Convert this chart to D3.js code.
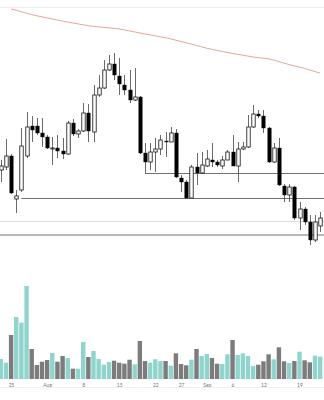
<!DOCTYPE html>
<html><head><meta charset="utf-8">
<script src="https://cdn.jsdelivr.net/npm/d3@7/dist/d3.min.js"></script>
<style>html,body{margin:0;padding:0;background:#fff;overflow:hidden}svg{display:block}</style>
</head><body><svg id="c" width="324" height="400"></svg>
<script>
// Daily candles, 23 Jul .. 23 Sep
const startDate = new Date(2017, 6, 23);
const endDate = new Date(2017, 8, 23);
const openP  = [80,83,94,51,60,94,124,124,117,113,101,102,99,96,127,116,119,137,118,155,162,180,186,174,165,160,150,153,97,88,98,101,109,108,117,72,68,52,83,77,84,90,88,84,90,98,84,101,103,123,136,134,122,88,102,64,55,63,32,41,28,10,24];
const highP  = [90,111,96,60,122,138,134,132,132,115,113,115,112,129,131,121,147,146,165,175,190,195,197,192,175,180,182,154,107,107,112,115,118,123,121,75,70,85,97,98,100,107,90,94,100,115,108,108,135,145,140,140,123,107,112,66,66,64,48,43,35,35,38];
const lowP   = [68,80,56,37,58,92,108,115,103,101,85,92,91,95,114,112,118,108,108,153,161,179,170,155,155,147,149,96,77,80,78,95,93,108,72,58,52,52,65,76,83,83,83,81,90,84,68,100,102,122,132,117,87,87,64,48,48,30,20,25,5,8,18];
const closeP = [84,94,57,54,104,123,120,117,113,102,102,99,96,127,116,119,137,119,155,162,180,186,175,166,160,150,153,97,88,98,101,110,108,117,73,68,52,83,77,85,91,88,85,90,98,84,101,103,123,136,134,122,88,102,65,55,63,32,41,28,10,28,32];
const maP    = [null,null,241,239.8,238.3,236.8,235.4,234.2,233.1,232.1,231,230,228.9,227.9,227,226.1,225.2,224.3,223.6,223.1,222.6,222.1,221.6,221.1,220.1,219.1,218.1,217,216,215.1,214.2,213.2,212.3,211.1,209.8,208.5,207.2,205.9,204.5,203.2,201.8,200.6,199.6,198.5,197.5,196.5,195.7,194.8,193.9,193,192.4,191.8,191.2,189.9,188.4,186.9,185.4,184.1,182.9,181.5,180,178.4,176.9];
const volume = [20,16.3,44,62,56.3,93,30,14,17.3,19,26,17.3,23,21,10.3,10.3,37,22,28,20,14.3,17,18.3,16.3,15.3,19.3,14.7,38,18,16.3,19.7,18,18,13.3,25.7,15,13.7,19.3,30,23,25,21,15.3,15,24.7,39,24,25.7,23,13,14.3,17.7,24.7,19.7,31.7,17.7,16,18,27.3,18.7,16.7,23.3,22.3];
// horizontal levels: [price, start index]
const levelPrices = [52, 77];
const levelStarts = [4, 28];
const bandLevels = [29, 15];
const tickDates = [new Date(2017,6,25),new Date(2017,7,1),new Date(2017,7,8),new Date(2017,7,15),new Date(2017,7,22),new Date(2017,7,27),new Date(2017,8,1),new Date(2017,8,6),new Date(2017,8,12),new Date(2017,8,19)];
const tickLabels = ["25","Aug","8","15","22","27","Sep","6","12","19"];

const dates = d3.timeDay.range(startDate, d3.timeDay.offset(endDate,1));
const svg = d3.select("#c");
const x = d3.scaleTime().domain([startDate, endDate]).range([0.8, 320.1]);
const y = d3.scaleLinear().domain([0, 250]).range([250, 0]);
const yv = d3.scaleLinear().domain([0, 100]).range([379, 279]);
const W = 324;

// top faint line
svg.append("line").attr("x1",0).attr("x2",W).attr("y1",7.5).attr("y2",7.5).attr("stroke","#eeeeee").attr("stroke-width",1);

// band levels
svg.append("line").attr("x1",0).attr("x2",W).attr("y1",Math.round(y(bandLevels[0]))+0.5).attr("y2",Math.round(y(bandLevels[0]))+0.5).attr("stroke","#dddddd").attr("stroke-width",1);
svg.append("line").attr("x1",0).attr("x2",W).attr("y1",y(bandLevels[1])).attr("y2",y(bandLevels[1])).attr("stroke","#a0a0a0").attr("stroke-width",1.6);

// support levels
levelPrices.forEach((p,k)=>{
  const yy = Math.round(y(p))+0.5;
  svg.append("line").attr("x1",x(dates[levelStarts[k]])).attr("x2",W).attr("y1",yy).attr("y2",yy).attr("stroke","#707070").attr("stroke-width",1);
});

// MA line
const maData = dates.map((d,i)=>({d, v: maP[i]})).filter(e=>e.v!=null);
svg.append("path").datum(maData)
  .attr("d", d3.line().x(e=>x(e.d)).y(e=>y(e.v)).curve(d3.curveMonotoneX))
  .attr("fill","none").attr("stroke","#e8a594").attr("stroke-width",1);

// candles
const bw = 3.4;
const g = svg.append("g");
dates.forEach((d,i)=>{
  const cx = Math.round(x(d)) + 0.5;
  const up = closeP[i] >= openP[i];
  g.append("line").attr("x1",cx).attr("x2",cx).attr("y1",y(highP[i])).attr("y2",y(lowP[i]))
    .attr("stroke","#444").attr("stroke-width",0.8);
  const top = y(Math.max(openP[i],closeP[i])), bot = y(Math.min(openP[i],closeP[i]));
  g.append("rect").attr("x",cx-bw/2).attr("y",top).attr("width",bw).attr("height",Math.max(1,bot-top))
    .attr("fill", up ? "#ffffff" : "#000000").attr("stroke","#111").attr("stroke-width", up?0.8:0.4);
});

// volume
const vw = 4.4;
svg.append("g").selectAll("rect").data(dates).join("rect")
  .attr("x",(d)=>x(d)-vw/2).attr("width",vw)
  .attr("y",(d,i)=>yv(volume[i])).attr("height",(d,i)=>yv(0)-yv(volume[i]))
  .attr("fill",(d,i)=> closeP[i]>=openP[i] ? "#8fd4cd" : "#7c7c7c");

// axis
const ax = svg.append("g").attr("transform","translate(0,379)")
  .call(d3.axisBottom(x).tickValues(tickDates).tickFormat((d,i)=>tickLabels[i]).tickSize(0).tickPadding(4));
ax.select(".domain").remove();
ax.selectAll("text").attr("font-family","Lato, 'DejaVu Sans', sans-serif").attr("font-size","5px").attr("fill","#777");
svg.append("line").attr("x1",0).attr("x2",W).attr("y1",387.5).attr("y2",387.5).attr("stroke","#f0f0f0");
</script></body></html>
